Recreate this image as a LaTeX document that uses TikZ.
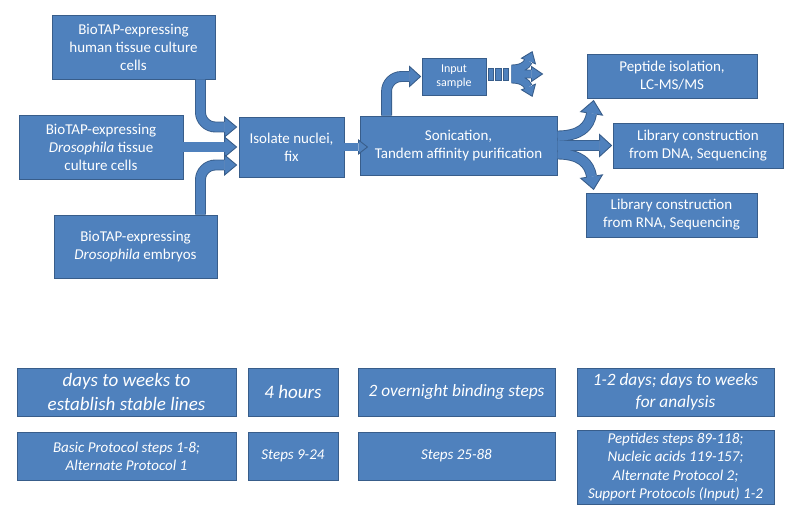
\documentclass[tikz,border=0pt]{standalone}
\usepackage{fontspec}
\setmainfont{Carlito}
\usetikzlibrary{calc}
\definecolor{fl}{HTML}{4F81BD}
\definecolor{bd}{HTML}{385D8A}
% block arrow head: #1 base centre, #2 direction angle, #3 half width, #4 length, #5 shaft half width
\newcommand\bhead[5]{%
  \begin{scope}[shift={#1}, rotate=#2]
    \fill[fl] (0,-#3) -- (#4,0) -- (0,#3) -- cycle;
    \draw[bd, line width=0.9pt, line join=miter] (0,-#5) -- (0,-#3) -- (#4,0) -- (0,#3) -- (0,#5);
  \end{scope}}
\begin{document}
\begin{tikzpicture}[x=1pt, y=-1pt,
  box/.style={draw=bd, fill=fl, line width=0.9pt, text=white, align=center, inner sep=0pt,
              font=\fontsize{15}{18}\selectfont},
  smallbox/.style={box, font=\fontsize{12}{14}\selectfont},
  bigit/.style={box, font=\fontsize{19}{23.3}\selectfont\itshape},
  midit/.style={box, font=\fontsize{17.3}{21.6}\selectfont\itshape},
  smit/.style={box, font=\fontsize{15}{18.3}\selectfont\itshape},
  shaftA/.style={draw=fl, line width=9.1pt, preaction={draw=bd, line width=10.9pt}},
  shaftB/.style={draw=fl, line width=7.1pt, preaction={draw=bd, line width=8.9pt}},
  dot/.style={draw=bd, fill=fl, line width=0.7pt}]
\useasboundingbox (0,0) rectangle (800,524);

% upper flow chart
\node[box, minimum width=163pt, minimum height=64pt] (h) at (133.5,47)
  {BioTAP-expressing\\human tissue culture\\cells};
\node[box, minimum width=164pt, minimum height=64pt] (d) at (101,147)
  {BioTAP-expressing\\\textit{Drosophila} tissue\\culture cells};
\node[box, minimum width=163pt, minimum height=63pt] (e) at (135.5,246.5)
  {BioTAP-expressing\\\textit{Drosophila} embryos};
\node[box, minimum width=105pt, minimum height=60pt] (iso) at (291.5,147)
  {Isolate nuclei,\\fix};
\node[box, minimum width=197pt, minimum height=59pt] (son) at (458.5,145.5)
  {Sonication,\\Tandem affinity purification};
\node[smallbox, minimum width=64pt, minimum height=37pt] (inp) at (454,76.5)
  {Input\\sample};
\node[box, minimum width=170pt, minimum height=44pt] (pep) at (672,76)
  {Peptide isolation,\\LC-MS/MS};
\node[box, minimum width=170pt, minimum height=45pt] (dna) at (698,145.5)
  {Library construction\\from DNA, Sequencing};
\node[box, minimum width=171pt, minimum height=44pt] (rna) at (671.5,215)
  {Library construction\\from RNA, Sequencing};

% bottom timing table
\node[bigit, minimum width=219pt, minimum height=48pt] (t1) at (126.5,392)
  {days to weeks to\\establish stable lines};
\node[bigit, minimum width=90pt, minimum height=48pt] (t2) at (293,392) {4 hours};
\node[midit, minimum width=197pt, minimum height=48pt] (t3) at (456.5,392)
  {2 overnight binding steps};
\node[midit, minimum width=197pt, minimum height=48pt] (t4) at (675.5,392)
  {1-2 days; days to weeks\\for analysis};
\node[smit, minimum width=219pt, minimum height=48pt] (s1) at (126.5,456)
  {Basic Protocol steps 1-8;\\Alternate Protocol 1};
\node[smit, minimum width=90pt, minimum height=48pt] (s2) at (293,456) {Steps 9-24};
\node[smit, minimum width=197pt, minimum height=48pt] (s3) at (456.5,456) {Steps 25-88};
\node[smit, minimum width=197pt, minimum height=74pt] (s4) at (675.5,467)
  {Peptides steps 89-118;\\Nucleic acids 119-157;\\Alternate Protocol 2;\\Support Protocols (Input) 1-2};

% connector coordinates
\coordinate (a1s) at ($(h.south east)+(-15,0)$);
\coordinate (a1b) at ($(iso.west)+(-14,-20)$);
\coordinate (a2b) at ($(iso.west)+(-14,0)$);
\coordinate (a3s) at ($(e.north east)+(-17,0)$);
\coordinate (a3b) at ($(iso.west)+(-14,18)$);
\coordinate (a4b) at ($(iso.east)+(14,0)$);
\coordinate (a5s) at ($(son.north west)+(27,0)$);
\coordinate (a5b) at ($(inp.west)+(-12,0)$);
\coordinate (ous) at ($(son.east)+(0,-9.5)$);
\coordinate (ols) at ($(son.east)+(0,8.5)$);
\coordinate (oub) at ($(pep.south west)+(5,15)$);
\coordinate (omb) at ($(dna.west)+(-13,0)$);
\coordinate (olb) at ($(rna.north west)+(6,-16)$);
\coordinate (fk) at ($(inp.east)+(25,-2.5)$);
\coordinate (fku) at ($(fk)+(17,-13)$);
\coordinate (fkm) at ($(fk)+(20,0)$);
\coordinate (fkd) at ($(fk)+(17,13)$);

% shafts
\draw[shaftA, rounded corners=15pt] (a1s) |- (a1b);
\draw[shaftA] (d.east) -- (a2b);
\draw[shaftA, rounded corners=15pt] (a3s) |- (a3b);
\draw[shaftB] (iso.east) -- (a4b);
\draw[shaftA, rounded corners=15pt] (a5s) |- (a5b);
\draw[shaftA] (ous) .. controls +(23,0) and +(-2,13) .. (oub)
              (son.east) -- (omb)
              (olb) .. controls +(-2,-13) and +(23,0) .. (ols);
\draw[shaftB] ($(fk)+(0,-5)$) .. controls +(9,0) and +(-2,5) .. (fku)
              (fk) -- (fkm)
              ($(fk)+(0,5)$) .. controls +(9,0) and +(-2,-5) .. (fkd);

% heads
\bhead{(a1b)}{0}{10}{12}{5}
\bhead{(a2b)}{0}{10}{12}{5}
\bhead{(a3b)}{0}{10}{12}{5}
\bhead{(a4b)}{0}{7}{9}{4}
\bhead{(a5b)}{0}{10}{11}{5}
\bhead{(oub)}{81}{11}{13}{5}
\bhead{(omb)}{0}{11}{12}{5}
\bhead{(olb)}{-81}{11}{13}{5}
\bhead{(fku)}{68}{7.5}{10}{4}
\bhead{(fkm)}{0}{7.5}{11}{4}
\bhead{(fkd)}{-68}{7.5}{10}{4}

% small squares after the input sample
\draw[dot] ($(inp.east)+(1.5,-8.5)$) rectangle ($(inp.east)+(7,3.5)$);
\draw[dot] ($(inp.east)+(9,-8.5)$) rectangle ($(inp.east)+(14.5,3.5)$);
\draw[dot] ($(inp.east)+(16.5,-8.5)$) rectangle ($(inp.east)+(22,3.5)$);
\end{tikzpicture}
\end{document}
